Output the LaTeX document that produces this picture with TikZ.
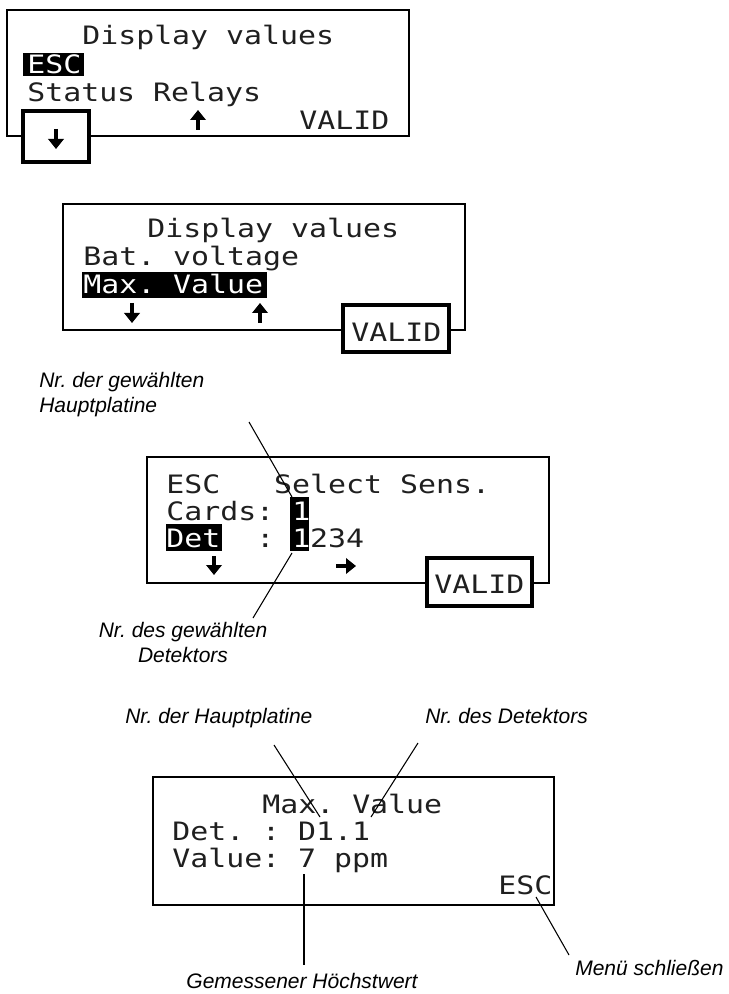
\documentclass[tikz,border=0pt]{standalone}
\usepackage{fontspec}
\setmainfont{Liberation Sans}
\newfontfamily\lcdfont[FakeStretch=1.18]{DejaVu Sans Mono}
\usetikzlibrary{arrows.meta}
\begin{document}
\frenchspacing
\begin{tikzpicture}[x=0.75pt,y=-0.75pt,
  lcd/.style={font=\lcdfont\fontsize{19pt}{19pt}\selectfont, anchor=base west, inner sep=0pt, text=black!88},
  inv/.style={lcd, text=white},
  lbl/.style={font=\fontsize{15.75pt}{18.75pt}\selectfont\itshape, inner sep=0pt},
  panel/.style={draw=black, line width=1.6pt},
  keybox/.style={draw=black, line width=3pt, fill=white},
  hl/.style={fill=black},
  lcdarrow/.style={line width=2.8pt, -{Triangle[width=11.5pt,length=7.5pt]}},
  leader/.style={draw=black, line width=0.8pt}]
\useasboundingbox (0,0) rectangle (728,994);

% ---------- panel 1 ----------
\draw[panel] (7,10) rectangle (409,136);
\fill[hl] (23,53) rectangle (84,76);
\node[lcd] (p1t) at (82,45) {Display values};
\node[inv] (p1esc) at (27,74) {ESC};
\node[lcd] (p1sr) at (27,102) {Status Relays};
\node[lcd] (p1v) at (299,130) {VALID};
\draw[keybox] (23,111) rectangle (89,162);
\coordinate (p1d1) at (56,129); \coordinate (p1d2) at (56,149);
\draw[lcdarrow] (p1d1) -- (p1d2);
\coordinate (p1u1) at (198,130); \coordinate (p1u2) at (198,110);
\draw[lcdarrow] (p1u1) -- (p1u2);

% ---------- panel 2 ----------
\draw[panel] (63,204) rectangle (465,330);
\fill[hl] (82,272) rectangle (267,298);
\node[lcd] (p2t) at (147,238) {Display values};
\node[lcd] (p2b) at (83,266) {Bat. voltage};
\node[inv] (p2m) at (83,294) {Max. Value};
\coordinate (p2d1) at (132,303); \coordinate (p2d2) at (132,323);
\draw[lcdarrow] (p2d1) -- (p2d2);
\coordinate (p2u1) at (260,323); \coordinate (p2u2) at (260,303);
\draw[lcdarrow] (p2u1) -- (p2u2);
\draw[keybox] (343,305) rectangle (449,352);
\node[lcd] (p2v) at (351,342) {VALID};

% ---------- panel 3 ----------
\draw[panel] (147,457) rectangle (549,583);
\fill[hl] (166,524) rectangle (222,551);
\fill[hl] (290,497) rectangle (309,551);
\node[lcd] (p3a) at (166,493) {ESC~~~Select Sens.};
\node[lcd] (p3b) at (166,520) {Cards:~\textcolor{white}{1}};
\node[lcd] (p3c) at (166,547) {\textcolor{white}{Det}~~:~\textcolor{white}{1}234};
\coordinate (p3d1) at (214,556); \coordinate (p3d2) at (214,575);
\draw[lcdarrow] (p3d1) -- (p3d2);
\coordinate (p3r1) at (336,566); \coordinate (p3r2) at (356,566);
\draw[lcdarrow] (p3r1) -- (p3r2);
\draw[keybox] (427,558) rectangle (532,606);
\node[lcd] (p3v) at (434,593) {VALID};

\node[lbl, anchor=north west, align=left] (l3a) at (39,372) {Nr. der gewählten\\Hauptplatine};
\node[lbl, anchor=north, align=center] (l3b) at (183,622) {Nr. des gewählten\\Detektors};
\coordinate (c3a1) at (249,422); \coordinate (c3a2) at (292,497);
\draw[leader] (c3a1) -- (c3a2);
\coordinate (c3b1) at (292,553); \coordinate (c3b2) at (253,618);
\draw[leader] (c3b1) -- (c3b2);

% ---------- panel 4 ----------
\draw[panel] (153,777) rectangle (554,905);
\node[lcd] (p4a) at (262,813) {Max. Value};
\node[lcd] (p4b) at (172,840) {Det.~:~D1.1};
\node[lcd] (p4c) at (172,867) {Value:~7~ppm};
\node[lcd] (p4e) at (498,894) {ESC};

\node[lbl, anchor=base west] (l4a) at (125,723) {Nr. der Hauptplatine};
\node[lbl, anchor=base west] (l4b) at (425,723) {Nr. des Detektors};
\node[lbl, anchor=base] (l4c) at (302,988) {Gemessener Höchstwert};
\node[lbl, anchor=base west] (l4d) at (575,975) {Menü schließen};
\coordinate (c4a1) at (274,745); \coordinate (c4a2) at (320,817);
\draw[leader] (c4a1) -- (c4a2);
\coordinate (c4b1) at (418,743); \coordinate (c4b2) at (371,817);
\draw[leader] (c4b1) -- (c4b2);
\coordinate (c4c1) at (304,874); \coordinate (c4c2) at (304,965);
\draw[leader] (c4c1) -- (c4c2);
\coordinate (c4d1) at (536,897); \coordinate (c4d2) at (569,955);
\draw[leader] (c4d1) -- (c4d2);
\end{tikzpicture}
\end{document}
